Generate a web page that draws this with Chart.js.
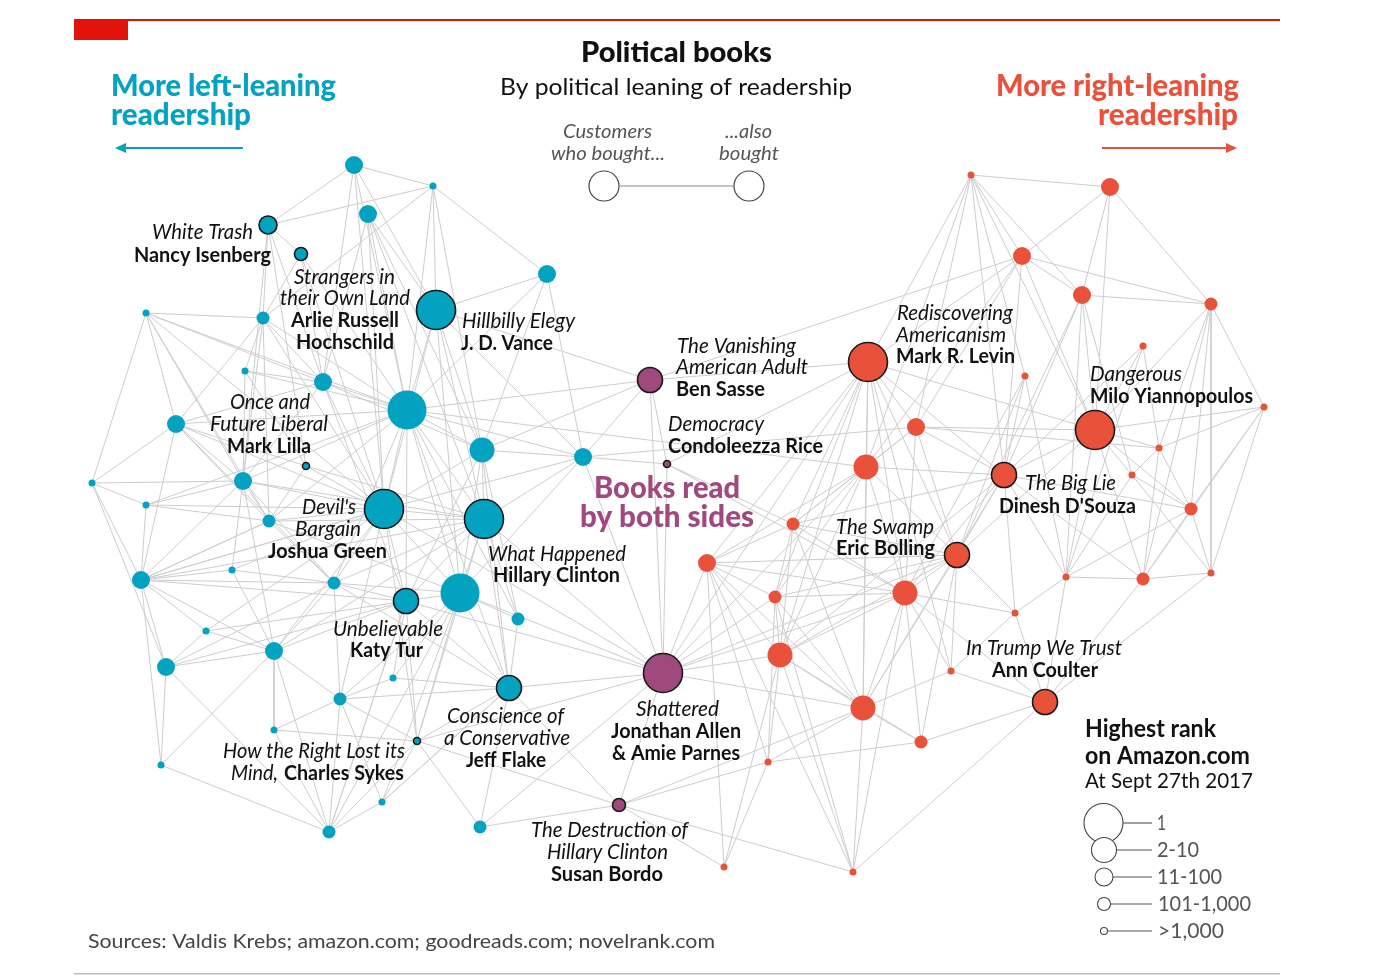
<!doctype html>
<html>
<head>
	<title>Political books</title>
	<script src="https://cdn.jsdelivr.net/npm/chart.js@4/dist/chart.umd.min.js"></script>
	<style>
	body { margin: 0; background: #fff; }
	#wrap { width: 1388px; height: 976px; }
	</style>
</head>
<body>
	<div id="wrap"><canvas id="books-canvas" width="1388" height="976"></canvas></div>
	<script>
	// layout coordinates of each book in the network, and its best Amazon rank class
	// rank class: 1 = "1", 2 = "2-10", 3 = "11-100", 4 = "101-1,000", 5 = ">1,000"
	var leftBooks = [
		['b1',354,165,3],['b2',433,186,5],['b3',368,214,3],['b4',268,225,3],['b5',301,254,4],
		['b6',547,274,3],['b7',436,310,1],['b8',146,313,5],['b9',263,318,4],['b10',245,371,5],
		['b11',323,382,3],['b12',407,410,1],['b13',176,424,3],['b14',482,450,2],['b15',306,466,5],
		['b16',583,457,3],['b17',92,483,5],['b18',243,481,3],['b19',384,509,1],['b20',146,505,5],
		['b21',269,521,4],['b22',484,519,1],['b23',232,570,5],['b24',141,580,3],['b25',334,583,4],
		['b26',406,601,2],['b27',460,593,1],['b28',206,631,5],['b29',274,651,3],['b30',518,619,4],
		['b31',166,667,3],['b32',393,678,5],['b33',340,699,4],['b34',509,688,2],['b35',274,730,5],
		['b36',417,741,5],['b37',161,765,5],['b38',382,802,5],['b39',329,832,4],['b40',480,827,4]
	];
	var bothBooks = [
		['p1',650,380,2],['p2',667,464,5],['p3',663,673,1],['p4',619,805,4]
	];
	var rightBooks = [
		['r1',971,175,5],['r2',1110,187,3],['r3',1022,256,3],['r4',1082,295,3],['r5',1211,304,4],
		['r6',1143,346,5],['r7',868,362,1],['r8',1025,376,5],['r9',1264,407,5],['r10',916,427,3],
		['r11',1095,430,1],['r12',1159,448,5],['r13',866,467,2],['r14',1132,475,5],['r15',1004,475,2],
		['r16',1191,509,4],['r17',793,524,4],['r18',957,555,2],['r19',707,563,3],['r20',1066,577,5],
		['r21',1143,579,4],['r22',1211,573,5],['r23',905,593,2],['r24',775,597,4],['r25',1015,613,5],
		['r26',780,655,2],['r27',951,671,5],['r28',1045,702,2],['r29',863,708,2],['r30',921,742,4],
		['r31',768,762,5],['r32',724,867,5],['r33',853,872,5]
	];
	// "customers who bought ... also bought" links
	var links = [
		'b1-b2','b1-b4','b1-b12','b1-b11','b1-b7','b2-b4','b2-b7','b2-b6','b2-b12','b2-b14','b2-b9',
		'b3-b7','b3-b12','b3-b14','b3-b11','b3-b22','b4-b5','b4-b9','b4-b11','b4-b15','b4-b18',
		'b5-b9','b5-b11','b5-b12','b5-b19','b6-b7','b6-b14','b6-b12','b7-b12','b7-b14','b7-b19',
		'b7-b22','b7-b27','b7-p1','b7-b16','b8-b9','b8-b13','b8-b17','b8-b18','b8-b19','b8-b21',
		'b9-b10','b9-b11','b9-b12','b9-b19','b9-b18','b9-b21','b10-b11','b10-b12','b10-b15',
		'b11-b12','b11-b13','b11-b18','b11-b19','b11-b26','b12-b14','b12-b19','b12-b22','b12-b27',
		'b12-b26','b12-b16','b12-b30','b12-b34','b13-b17','b13-b18','b13-b19','b13-b24','b13-b12',
		'b13-b15','b14-b22','b14-b19','b14-b27','b14-b16','b14-b26','b14-b30','b15-b19','b15-b21',
		'b15-b22','b16-b22','b16-b19','b16-p2','b16-b27','b16-p3','b17-b20','b17-b24','b17-b18',
		'b17-b31','b18-b19','b18-b21','b18-b23','b18-b24','b18-b25','b18-b29','b19-b22','b19-b26',
		'b19-b27','b19-b25','b19-b21','b19-b24','b19-b33','b19-b36','b19-b29','b20-b18','b20-b21',
		'b20-b24','b20-b19','b21-b22','b21-b25','b21-b24','b22-b26','b22-b27','b22-b34','b22-b30',
		'b22-p3','b22-b25','b22-b24','b23-b24','b23-b25','b23-b29','b24-b28','b24-b29','b24-b31',
		'b24-b26','b24-b37','b25-b26','b25-b27','b25-b29','b25-b33','b26-b27','b26-b34','b26-b32',
		'b26-b36','b26-b39','b27-b34','b27-b30','b27-p3','b27-b36','b27-b38','b28-b29','b28-b31',
		'b28-b26','b29-b26','b29-b35','b29-b39','b29-b31','b30-b34','b31-b37','b31-b39','b32-b33',
		'b32-b34','b33-b34','b33-b39','b33-b38','b34-p3','b34-b40','b34-b36','b34-b38','b35-b39',
		'b35-b36','b36-b38','b36-b39','b37-b39','b38-b39','b40-p4','b40-b36',
		'b8-b12','b8-b11','b9-b13','b10-b18','b11-b14','b12-b21','b12-b25','b13-b21','b13-b25',
		'b18-b22','b18-b12','b24-b21','b24-b25','b24-b19','b31-b26','b31-b25','b29-b33','b29-b22',
		'b35-b33','b37-b29','b39-b26','b39-b27','b38-b34','b36-b33','b20-b12','b23-b19','b21-b27',
		'b25-b34','b28-b19','b33-b27','b32-b27','b22-b36','b14-b34','b6-b16','b3-b19','b1-b19',
		'p1-b16','p1-p2','p1-p3','p1-b14','p1-r7','p1-b12','p1-r3','p2-p3','p2-r17','p2-r7','p2-r23',
		'p3-p4','p3-b19','p3-b26','p3-r19','p3-r23','p3-r26','p3-r24','p3-r18','p3-r29','p3-r13',
		'p3-r7','p3-b40','p3-b36','p4-b34','p4-r31','p4-r29','p4-r33','p4-b36','b12-r13','b16-r10',
		'r1-r2','r1-r10','r1-r13','r1-r8','r1-r15','r1-r4','r1-r11','r1-r7','r2-r3','r2-r4','r2-r5',
		'r2-r11','r3-r4','r3-r7','r3-r10','r3-r11','r3-r13','r3-r5','r3-r15','r4-r11','r4-r15',
		'r4-r5','r4-r14','r4-r18','r4-r20','r5-r9','r5-r11','r5-r12','r5-r16','r5-r21','r5-r22',
		'r6-r11','r6-r15','r6-r20','r7-r10','r7-r13','r7-r15','r7-r17','r7-r18','r7-r23','r7-r24',
		'r7-r26','r7-r29','r7-r19','r7-r27','r7-r11','r8-r15','r8-r18','r8-r23','r9-r11','r9-r16',
		'r9-r12','r9-r22','r9-r21','r10-r11','r10-r15','r10-r13','r10-r18','r10-r23','r10-r12',
		'r11-r14','r11-r15','r11-r12','r11-r16','r11-r20','r11-r21','r11-r18','r12-r14','r12-r16',
		'r13-r17','r13-r18','r13-r23','r13-r24','r13-r19','r13-r26','r13-r15','r14-r16','r14-r22',
		'r15-r18','r15-r23','r15-r20','r15-r21','r15-r25','r15-r26','r15-r17','r15-r29','r15-r16',
		'r16-r21','r16-r22','r16-r20','r17-r19','r17-r24','r17-r26','r17-r18','r17-r23','r18-r23',
		'r18-r24','r18-r26','r18-r27','r18-r25','r18-r29','r18-r19','r18-r30','r19-r24','r19-r26',
		'r19-r31','r19-r23','r19-r32','r20-r21','r20-r25','r20-r28','r21-r22','r21-r28','r22-r28',
		'r23-r24','r23-r26','r23-r27','r23-r29','r23-r30','r23-r25','r23-r33','r24-r26','r24-r29',
		'r24-r31','r25-r27','r25-r28','r26-r29','r26-r31','r26-r32','r26-r33','r27-r28','r27-r29',
		'r28-r30','r28-r33','r29-r30','r29-r33','r29-r31','r30-r31','r31-r32','r32-p4','r33-r24',
		'r10-r17','r13-r29','r23-r28','r26-r30','r19-r29','r1-r3','r8-r20','r6-r12','r12-r21',
		'r14-r20','r17-r29','r19-r33'
	];
	var rankLabels = ['1', '2-10', '11-100', '101-1,000', '>1,000'];
	var labelledBooks = ['b4','b5','b7','b15','b19','b22','b26','b34','b36','p1','p2','p3','p4','r7','r11','r15','r18','r28'];

	// annotation text: [style, text, left, middle y, width]
	var notes = [
		['title','Political books',581,53,191],
		['sub','By political leaning of readership',500,87,352],
		['left','More left-leaning',111,86,225],['left','readership',111,115,140],
		['right','More right-leaning',996,86,243],['right','readership',1098,115,140],
		['key','Customers',563,132,89],['key','who bought...',551,154,114],
		['key','...also',725,132,47],['key','bought',719,154,60],
		['i','White Trash',152,232,101],['b','Nancy Isenberg',134,255,137],
		['i','Strangers in',294,277,101],['i','their Own Land',280,298,130],
		['b','Arlie Russell',291,320,108],['b','Hochschild',296,342,98],
		['i','Hillbilly Elegy',462,321,113],['b','J. D. Vance',461,343,92],
		['i','Once and',230,402,80],['i','Future Liberal',210,424,118],['b','Mark Lilla',227,446,84],
		['i',"Devil's",302,507,54],['i','Bargain',295,529,66],['b','Joshua Green',268,551,119],
		['i','What Happened',488,554,138],['b','Hillary Clinton',493,575,127],
		['i','Unbelievable',333,629,110],['b','Katy Tur',350,650,73],
		['i','Conscience of',447,716,117],['i','a Conservative',444,738,126],['b','Jeff Flake',466,760,80],
		['i','How the Right Lost its',223,751,182],['i','Mind,',231,773,47],['b','Charles Sykes',284,773,120],
		['i','The Vanishing',677,346,119],['i','American Adult',676,367,132],['b','Ben Sasse',676,389,89],
		['i','Democracy',668,424,96],['b','Condoleezza Rice',668,446,155],
		['both','Books read',594,488,146],['both','by both sides',580,517,174],
		['i','Shattered',636,709,83],['b','Jonathan Allen',611,731,130],['b','& Amie Parnes',612,753,128],
		['i','The Destruction of',531,830,157],['i','Hillary Clinton',547,852,121],['b','Susan Bordo',551,874,112],
		['i','Rediscovering',897,313,116],['i','Americanism',896,335,110],['b','Mark R. Levin',896,356,119],
		['i','Dangerous',1090,374,92],['b','Milo Yiannopoulos',1090,396,163],
		['i','The Big Lie',1025,483,91],['b',"Dinesh D'Souza",999,506,137],
		['i','The Swamp',836,527,98],['b','Eric Bolling',836,548,99],
		['i','In Trump We Trust',966,648,156],['b','Ann Coulter',992,670,106],
		['lhead','Highest rank',1085,729,131],['lhead','on Amazon.com',1085,756,165],
		['lsub','At Sept 27th 2017',1085,781,168],
		['lkey','1',1157,823,9],['lkey','2-10',1157,850,42],['lkey','11-100',1157,877,65],
		['lkey','101-1,000',1158,904,93],['lkey','>1,000',1158,931,66],
		['src','Sources: Valdis Krebs; amazon.com; goodreads.com; novelrank.com',88,942,627]
	];

	var BLUE = '#03a2c1', RED = '#e9513a', PURPLE = '#a0497f';
	var rankRadius = [19.5, 12.5, 9, 6.5, 3.5];
	var styles = {
		title: ['900 28px Lato', '#111'],
		sub: ['24px Lato', '#111'],
		left: ['900 31px Lato', BLUE],
		right: ['900 31px Lato', RED],
		key: ['italic 20px Lato', '#555'],
		i: ['italic 21px Lato', '#111'],
		b: ['bold 21px Lato', '#111'],
		both: ['900 31px Lato', PURPLE],
		lhead: ['bold 24px Lato', '#111'],
		lsub: ['22px Lato', '#111'],
		lkey: ['21px Lato', '#555'],
		src: ['20px Lato', '#444']
	};

	function toPoints(list) {
		return list.map(function(d) { return { id: d[0], x: d[1], y: d[2], rank: d[3] }; });
	}
	var pos = {};
	leftBooks.concat(bothBooks, rightBooks).forEach(function(d) { pos[d[0]] = { x: d[1], y: d[2] }; });
	var linkPoints = [];
	links.forEach(function(l) {
		var ends = l.split('-');
		linkPoints.push({ x: pos[ends[0]].x, y: pos[ends[0]].y }, { x: pos[ends[1]].x, y: pos[ends[1]].y }, { x: null, y: null });
	});

	function nodeSet(list, colour) {
		return {
			data: toPoints(list),
			backgroundColor: colour,
			pointRadius: function(c) { return rankRadius[c.raw.rank - 1]; },
			pointHoverRadius: function(c) { return rankRadius[c.raw.rank - 1]; },
			pointBorderColor: '#1a1a1a',
			pointBorderWidth: function(c) { return labelledBooks.indexOf(c.raw.id) >= 0 ? 1.6 : 0; },
			pointHoverBorderWidth: function(c) { return labelledBooks.indexOf(c.raw.id) >= 0 ? 1.6 : 0; },
			order: 1
		};
	}

	function fitText(ctx, s, x, y, w, style) {
		ctx.font = style[0];
		var m = ctx.measureText(s).width;
		ctx.save();
		ctx.translate(x, y);
		ctx.scale(w / m, 1);
		ctx.fillStyle = style[1];
		ctx.textAlign = 'left';
		ctx.textBaseline = 'middle';
		ctx.fillText(s, 0, 0);
		ctx.restore();
	}

	function arrow(ctx, x1, x2, y, colour) {
		var dir = x2 > x1 ? 1 : -1;
		ctx.strokeStyle = colour; ctx.fillStyle = colour; ctx.lineWidth = 2;
		ctx.beginPath(); ctx.moveTo(x1, y); ctx.lineTo(x2 - dir * 8, y); ctx.stroke();
		ctx.beginPath(); ctx.moveTo(x2, y); ctx.lineTo(x2 - dir * 11, y - 5); ctx.lineTo(x2 - dir * 11, y + 5); ctx.closePath(); ctx.fill();
	}

	var decorations = {
		id: 'decorations',
		beforeDatasetsDraw: function(chart) {
			var ctx = chart.ctx;
			ctx.save();
			ctx.fillStyle = '#e3120b';
			ctx.fillRect(74, 19, 1206, 2);
			ctx.fillRect(74, 19, 54, 21);
			ctx.fillStyle = '#b9bec3';
			ctx.fillRect(74, 973, 1206, 1.5);
			arrow(ctx, 243, 115, 148, BLUE);
			arrow(ctx, 1102, 1237, 148, RED);
			// "customers who bought / also bought" key
			ctx.strokeStyle = '#444'; ctx.lineWidth = 1.2; ctx.fillStyle = '#fff';
			ctx.beginPath(); ctx.arc(604, 186, 15, 0, Math.PI * 2); ctx.fill(); ctx.stroke();
			ctx.beginPath(); ctx.arc(749, 186, 15, 0, Math.PI * 2); ctx.fill(); ctx.stroke();
			ctx.strokeStyle = '#888';
			ctx.beginPath(); ctx.moveTo(620, 186); ctx.lineTo(733, 186); ctx.stroke();
			// size key
			var ys = [823, 850, 877, 904, 931];
			rankRadius.forEach(function(r, i) {
				var cx = i === 0 ? 1103.5 : 1104;
				ctx.strokeStyle = '#555'; ctx.lineWidth = 1.1;
				ctx.beginPath(); ctx.moveTo(cx + r, ys[i]); ctx.lineTo(1152, ys[i]); ctx.stroke();
				ctx.strokeStyle = '#444'; ctx.fillStyle = '#fff';
				ctx.beginPath(); ctx.arc(cx, ys[i], r, 0, Math.PI * 2); ctx.fill(); ctx.stroke();
			});
			ctx.restore();
		},
		afterDraw: function(chart) {
			var ctx = chart.ctx;
			notes.forEach(function(n) { fitText(ctx, n[1], n[2], n[3], n[4], styles[n[0]]); });
		}
	};

	window.onload = function() {
		var ctx = document.getElementById('books-canvas').getContext('2d');
		window.booksChart = new Chart(ctx, {
			type: 'scatter',
			data: {
				datasets: [
					{
						data: linkPoints,
						showLine: true,
						spanGaps: false,
						borderColor: '#cdcdcd',
						borderWidth: 1,
						pointRadius: 0,
						pointHoverRadius: 0,
						order: 10
					},
					nodeSet(leftBooks, BLUE),
					nodeSet(bothBooks, PURPLE),
					nodeSet(rightBooks, RED)
				]
			},
			options: {
				responsive: false,
				animation: false,
				events: [],
				layout: { padding: 0, autoPadding: false },
				plugins: { legend: { display: false }, tooltip: { enabled: false } },
				scales: {
					x: { type: 'linear', min: 0, max: 1388, display: false },
					y: { type: 'linear', min: 0, max: 976, reverse: true, display: false }
				}
			},
			plugins: [decorations]
		});
	};
	</script>
</body>
</html>
